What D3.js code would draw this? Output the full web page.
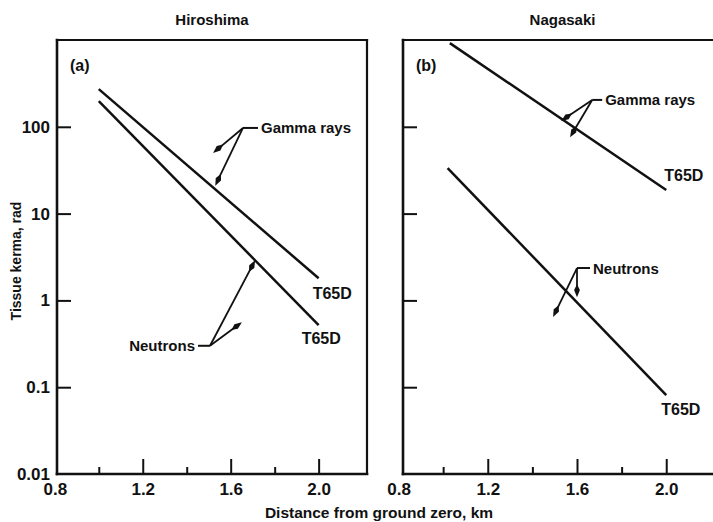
<!DOCTYPE html>
<html>
<head>
<meta charset="utf-8">
<script src="https://cdn.jsdelivr.net/npm/d3@7/dist/d3.min.js"></script>
<style>
  html, body { margin: 0; padding: 0; background: #fff; }
  svg { display: block; }
  text { font-family: "Liberation Sans", Arial, Helvetica, sans-serif; font-weight: bold; fill: #111; }
</style>
</head>
<body>
<svg id="chart" width="713" height="522"></svg>
<script>
// Tissue kerma versus ground distance, T65D dosimetry
const panelTitles = ["Hiroshima", "Nagasaki"];
const panelTags = ["(a)", "(b)"];

const distanceMajorTicks = [0.8, 1.2, 1.6, 2.0];
const distanceMajorLabels = ["0.8", "1.2", "1.6", "2.0"];
const distanceMinorTicks = [1.0, 1.4, 1.8];
const kermaTicks = [0.01, 0.1, 1, 10, 100];
const kermaTickLabels = ["0.01", "0.1", "1", "10", "100"];

// each curve is straight on the semi-log plot: two end points (km, rad)
const hiroshimaGammaKm = [1.0, 2.0];
const hiroshimaGammaRad = [272, 1.8];
const hiroshimaNeutronKm = [1.0, 2.0];
const hiroshimaNeutronRad = [198, 0.52];
const nagasakiGammaKm = [1.03, 2.0];
const nagasakiGammaRad = [920, 18.7];
const nagasakiNeutronKm = [1.02, 2.0];
const nagasakiNeutronRad = [33.5, 0.081];

const curveLabel = "T65D";
const gammaLabel = "Gamma rays";
const neutronLabel = "Neutrons";

const svg = d3.select("#chart");
const plotTop = 40, plotBottom = 474;
const y = d3.scaleLog().domain([0.01, 1000]).range([plotBottom, plotTop]);
const ink = "#111";

const zip = (xs, ys) => xs.map((d, i) => [d, ys[i]]);

const panels = [
  {
    title: panelTitles[0], tag: panelTags[0], left: 57, right: 367, domain: [0.81, 2.22],
    tickLabels: true, rightBorder: true,
    curves: [
      { pts: zip(hiroshimaGammaKm, hiroshimaGammaRad), lab: [-6, 21] },
      { pts: zip(hiroshimaNeutronKm, hiroshimaNeutronRad), lab: [-17, 19] }
    ],
    notes: [
      { text: gammaLabel, knee: [1.656, 97], side: 1, lead: 15, tips: [[1.52, 50], [1.53, 21]] },
      { text: neutronLabel, knee: [1.506, 0.30], side: -1, lead: 12, tips: [[1.711, 2.9], [1.651, 0.56]] }
    ]
  },
  {
    title: panelTitles[1], tag: panelTags[1], left: 403, right: 722, domain: [0.82, 2.25],
    tickLabels: false, rightBorder: false,
    curves: [
      { pts: zip(nagasakiGammaKm, nagasakiGammaRad), lab: [-2, -9] },
      { pts: zip(nagasakiNeutronKm, nagasakiNeutronRad), lab: [-5, 20] }
    ],
    notes: [
      { text: gammaLabel, knee: [1.668, 204], side: 1, lead: 10, tips: [[1.529, 117], [1.569, 76]] },
      { text: neutronLabel, knee: [1.600, 2.36], side: 1, lead: 13, tips: [[1.493, 0.644], [1.600, 1.09]] }
    ]
  }
];

function arrowHead(g, x1, y1, x2, y2) {
  const dx = x2 - x1, dy = y2 - y1, len = Math.hypot(dx, dy);
  const ux = dx / len, uy = dy / len, nx = -uy, ny = ux;
  const L = 13, w = 2.9;
  g.append("line")
    .attr("x1", x1).attr("y1", y1)
    .attr("x2", x2 - ux * 6).attr("y2", y2 - uy * 6)
    .attr("stroke", ink).attr("stroke-width", 1.8);
  const p = [
    [x2, y2],
    [x2 - ux * L * 0.55 + nx * w, y2 - uy * L * 0.55 + ny * w],
    [x2 - ux * L, y2 - uy * L],
    [x2 - ux * L * 0.55 - nx * w, y2 - uy * L * 0.55 - ny * w]
  ];
  g.append("path").attr("d", "M" + p.map(q => q.join(",")).join("L") + "Z").attr("fill", ink);
}

panels.forEach(p => {
  const x = d3.scaleLinear().domain(p.domain).range([p.left, p.right]);
  const g = svg.append("g");

  // title
  g.append("text").attr("x", (p.left + p.right) / 2).attr("y", 25)
    .attr("text-anchor", "middle").attr("font-size", 15).text(p.title);

  // vertical axis with inward ticks
  const yAxis = d3.axisLeft(y).tickValues(kermaTicks)
    .tickSize(-14).tickPadding(7)
    .tickFormat((d, i) => p.tickLabels ? kermaTickLabels[i] : "");
  const ya = g.append("g").attr("transform", `translate(${p.left},0)`).call(yAxis);
  ya.select(".domain").remove();
  ya.selectAll(".tick line").attr("stroke", ink).attr("stroke-width", 2);
  ya.selectAll(".tick text").attr("font-size", 17).attr("font-family", null).attr("fill", ink);
  // the 0.01 tick sits on the bottom edge
  ya.selectAll(".tick").filter(d => d === 0.01).select("line").remove();

  // horizontal axis: tall major ticks, short minor ticks
  const xMajor = d3.axisBottom(x).tickValues(distanceMajorTicks)
    .tickSize(-15).tickPadding(9)
    .tickFormat((d, i) => distanceMajorLabels[i]);
  const xa = g.append("g").attr("transform", `translate(0,${plotBottom})`).call(xMajor);
  xa.select(".domain").remove();
  xa.selectAll(".tick line").attr("stroke", ink).attr("stroke-width", 2);
  xa.selectAll(".tick").filter(d => d === 0.8).select("line").remove();
  xa.selectAll(".tick text").attr("font-size", 17).attr("font-family", null).attr("fill", ink);

  const xMinor = d3.axisBottom(x).tickValues(distanceMinorTicks).tickSize(-7).tickFormat("");
  const xm = g.append("g").attr("transform", `translate(0,${plotBottom})`).call(xMinor);
  xm.select(".domain").remove();
  xm.selectAll(".tick line").attr("stroke", ink).attr("stroke-width", 2);

  // frame
  const frame = g.append("g").attr("stroke", ink).attr("fill", "none").attr("stroke-linecap", "square");
  frame.append("line").attr("x1", p.left).attr("x2", p.left).attr("y1", plotTop).attr("y2", plotBottom).attr("stroke-width", 2.6);
  frame.append("line").attr("x1", p.left).attr("x2", p.right).attr("y1", plotTop).attr("y2", plotTop).attr("stroke-width", 2.2);
  frame.append("line").attr("x1", p.left).attr("x2", p.right).attr("y1", plotBottom).attr("y2", plotBottom).attr("stroke-width", 2.6);
  if (p.rightBorder) {
    frame.append("line").attr("x1", p.right).attr("x2", p.right).attr("y1", plotTop).attr("y2", plotBottom).attr("stroke-width", 2.2);
  }

  // panel tag
  g.append("text").attr("x", p.left + 13).attr("y", 71).attr("font-size", 16).text(p.tag);

  // kerma curves and their labels
  const line = d3.line().x(d => x(d[0])).y(d => y(d[1]));
  p.curves.forEach(c => {
    g.append("path").attr("d", line(c.pts)).attr("fill", "none")
      .attr("stroke", ink).attr("stroke-width", 2.5);
    const end = c.pts[c.pts.length - 1];
    g.append("text").attr("x", x(end[0]) + c.lab[0]).attr("y", y(end[1]) + c.lab[1])
      .attr("font-size", 16).text(curveLabel);
  });

  // callouts
  p.notes.forEach(n => {
    const kx = x(n.knee[0]), ky = y(n.knee[1]);
    const ex = kx + n.side * n.lead;
    g.append("line").attr("x1", kx).attr("y1", ky).attr("x2", ex).attr("y2", ky)
      .attr("stroke", ink).attr("stroke-width", 2);
    g.append("text").attr("x", ex + n.side * 3).attr("y", ky + 5.5)
      .attr("text-anchor", n.side > 0 ? "start" : "end")
      .attr("font-size", 15).text(n.text);
    n.tips.forEach(t => arrowHead(g, kx, ky, x(t[0]), y(t[1])));
  });
});

// shared axis titles
svg.append("text").attr("transform", "translate(21,261) rotate(-90)")
  .attr("text-anchor", "middle").attr("font-size", 14).text("Tissue kerma, rad");
svg.append("text").attr("x", 379).attr("y", 518)
  .attr("text-anchor", "middle").attr("font-size", 15.5).text("Distance from ground zero, km");
</script>
</body>
</html>
